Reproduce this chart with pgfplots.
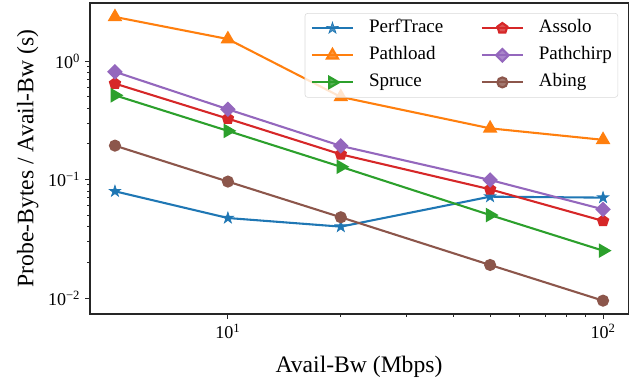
\documentclass[border=0pt]{standalone}
\usepackage{fontspec}
\setmainfont{Liberation Serif}
\usepackage{pgfplots}
\pgfplotsset{compat=1.18}
\usetikzlibrary{plotmarks}
\definecolor{c0}{HTML}{1F77B4}
\definecolor{c1}{HTML}{FF7F0E}
\definecolor{c2}{HTML}{2CA02C}
\definecolor{c3}{HTML}{D62728}
\definecolor{c4}{HTML}{9467BD}
\definecolor{c5}{HTML}{8C564B}
\newcommand\legfont{\fontsize{13.7}{16}\selectfont}
\pgfdeclareplotmark{fstar}{%
 \pgfpathmoveto{\pgfpointpolar{90}{\pgfplotmarksize}}%
 \pgfpathlineto{\pgfpointpolar{126}{0.382\pgfplotmarksize}}%
 \pgfpathlineto{\pgfpointpolar{162}{\pgfplotmarksize}}%
 \pgfpathlineto{\pgfpointpolar{198}{0.382\pgfplotmarksize}}%
 \pgfpathlineto{\pgfpointpolar{234}{\pgfplotmarksize}}%
 \pgfpathlineto{\pgfpointpolar{270}{0.382\pgfplotmarksize}}%
 \pgfpathlineto{\pgfpointpolar{306}{\pgfplotmarksize}}%
 \pgfpathlineto{\pgfpointpolar{342}{0.382\pgfplotmarksize}}%
 \pgfpathlineto{\pgfpointpolar{18}{\pgfplotmarksize}}%
 \pgfpathlineto{\pgfpointpolar{54}{0.382\pgfplotmarksize}}%
 \pgfpathclose\pgfusepathqfillstroke}
\begin{document}
\begin{tikzpicture}
\path[use as bounding box] (0,0) rectangle (462.24pt,274.32pt);
\begin{axis}[
  at={(64.8pt,48.24pt)}, anchor=south west,
  scale only axis, width=387.4pt, height=223.9pt,
  xmode=log, ymode=log,
  xmin=4.29, xmax=116.6, ymin=0.00733, ymax=3.08,
  xtick={10,100}, xticklabels={10\textsuperscript{1},10\textsuperscript{2}},
  ytick={0.01,0.1,1}, yticklabels={10\textsuperscript{−2},10\textsuperscript{−1},10\textsuperscript{0}},
  tick align=outside, tick pos=left,
  major tick length=3.5pt, minor tick length=2pt,
  every tick/.style={black!85, line width=0.6pt},
  axis line style={black!85, line width=0.8pt},
  tick label style={font=\fontsize{13}{15}\selectfont},
  label style={font=\fontsize{17}{20}\selectfont},
  xlabel={Avail-Bw (Mbps)}, ylabel={Probe-Bytes / Avail-Bw (s)},
  xlabel style={yshift=-6pt},
  legend columns=2,
  legend style={at={(1,1)}, anchor=north east, xshift=-7.2pt, yshift=-7.2pt,
    draw=black!15, rounded corners=2pt, fill=white, fill opacity=0.8, text opacity=1,
    font=\legfont, nodes={font=\legfont, inner xsep=0pt, inner ysep=3.5pt, text height=9.5pt, text depth=3pt},
    inner xsep=4.3pt, inner ysep=1pt,
    /tikz/every odd column/.append style={column sep=10.8pt},
    /tikz/every even column/.append style={column sep=27pt},
    row sep=0pt},
  legend cell align=left,
  legend image code/.code={\draw[mark repeat=2,mark phase=2] plot coordinates {(0pt,0pt)(14.75pt,0pt)(29.5pt,0pt)};},
  every axis plot/.append style={line width=1.5pt, mark options={solid}},
]
\addplot[c0, mark=fstar, mark size=4.3pt, mark options={line width=0.5pt}] coordinates {(5,0.0795) (10,0.0473) (20,0.040) (50,0.0716) (100,0.0703)};
\addlegendentry{PerfTrace}
\addplot[c3, mark=pentagon*, mark size=3.8pt] coordinates {(5,0.644) (10,0.326) (20,0.163) (50,0.0826) (100,0.0447)};
\addlegendentry{Assolo}
\addplot[c1, mark=triangle*, mark size=4.6pt] coordinates {(5,2.35) (10,1.53) (20,0.497) (50,0.27) (100,0.216)};
\addlegendentry{Pathload}
\addplot[c4, mark=square*, mark size=3.2pt, mark options={rotate=45}] coordinates {(5,0.81) (10,0.391) (20,0.192) (50,0.099) (100,0.056)};
\addlegendentry{Pathchirp}
\addplot[c2, mark=triangle*, mark size=4.6pt, mark options={rotate=-90}] coordinates {(5,0.513) (10,0.257) (20,0.128) (50,0.0501) (100,0.0251)};
\addlegendentry{Spruce}
\addplot[c5, mark=*, mark size=3.6pt] coordinates {(5,0.193) (10,0.096) (20,0.048) (50,0.019) (100,0.0095)};
\addlegendentry{Abing}
\end{axis}
\end{tikzpicture}
\end{document}
